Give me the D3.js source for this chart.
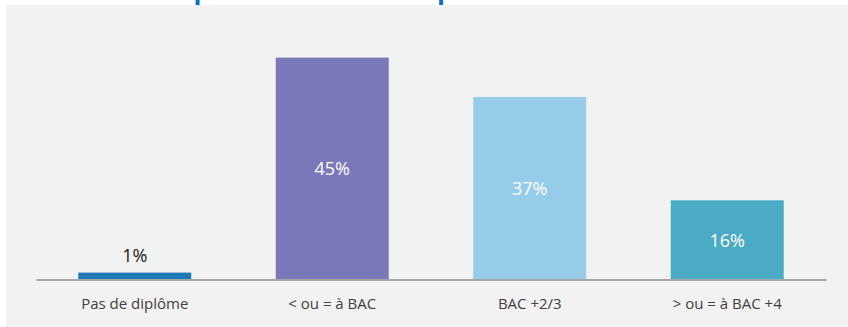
<!DOCTYPE html>
<html>
<head>
<meta charset="utf-8">
<script src="https://cdn.jsdelivr.net/npm/d3@7"></script>
<style>
  html, body { margin: 0; padding: 0; background: #ffffff; }
  svg { display: block; }
</style>
</head>
<body>
<svg id="chart" width="848" height="327"></svg>
<script>
// ---- data ----
const categories = ["Pas de diplôme", "< ou = à BAC", "BAC +2/3", "> ou = à BAC +4"];
const values = [1.3, 45, 37, 16];
const colors = ["#1f78b7", "#7a78b8", "#96cbea", "#4babc5"];
const labelInside = [false, true, true, true];
// cut-off title fragments (only the descenders remain visible)
const titleFragments = ["p", "p"];

const W = 848, H = 327;
const svg = d3.select("#chart");

// panel background
svg.append("rect")
  .attr("x", 6).attr("y", 5)
  .attr("width", W - 6).attr("height", H - 5)
  .attr("fill", "#f2f2f2");

// clipped title remnants
const titleX = [193.5, 437];
svg.selectAll("text.title")
  .data(titleFragments)
  .join("text")
  .attr("class", "title")
  .attr("x", (d, i) => titleX[i])
  .attr("y", -1)
  .attr("font-family", "'Open Sans', sans-serif")
  .attr("font-weight", 700)
  .attr("font-size", 26)
  .attr("fill", "#0a72c4")
  .text(d => d);

const baseY = 279;
const x = d3.scaleBand()
  .domain(categories)
  .range([36, 826])
  .paddingInner(0.428)
  .paddingOuter(0.214);

const y = d3.scaleLinear()
  .domain([0, 50])
  .range([baseY, baseY - 50 * 4.92]);

// bars
svg.selectAll("rect.bar")
  .data(values)
  .join("rect")
  .attr("class", "bar")
  .attr("x", (d, i) => x(categories[i]))
  .attr("y", d => y(d))
  .attr("width", x.bandwidth())
  .attr("height", d => y(0) - y(d))
  .attr("fill", (d, i) => colors[i]);

// x axis
const xAxis = d3.axisBottom(x).tickSize(0).tickPadding(19);
const gx = svg.append("g")
  .attr("transform", `translate(0,${baseY + 0.5})`)
  .call(xAxis);
gx.select(".domain").attr("stroke", "#8c8c8c").attr("stroke-width", 1.6);
gx.selectAll(".tick text")
  .attr("font-family", "'Open Sans', sans-serif")
  .attr("font-size", 15)
  .attr("fill", "#404040");

// value labels
const fmt = v => d3.format(".0f")(v) + "%";
svg.selectAll("text.val")
  .data(values)
  .join("text")
  .attr("class", "val")
  .attr("x", (d, i) => x(categories[i]) + x.bandwidth() / 2)
  .attr("y", (d, i) => labelInside[i] ? (y(d) + y(0)) / 2 + 7 : y(d) - 10.5)
  .attr("text-anchor", "middle")
  .attr("font-family", "'Open Sans', sans-serif")
  .attr("font-size", 18)
  .attr("fill", (d, i) => labelInside[i] ? "#ffffff" : "#1a1a1a")
  .text(d => fmt(d));
</script>
</body>
</html>
